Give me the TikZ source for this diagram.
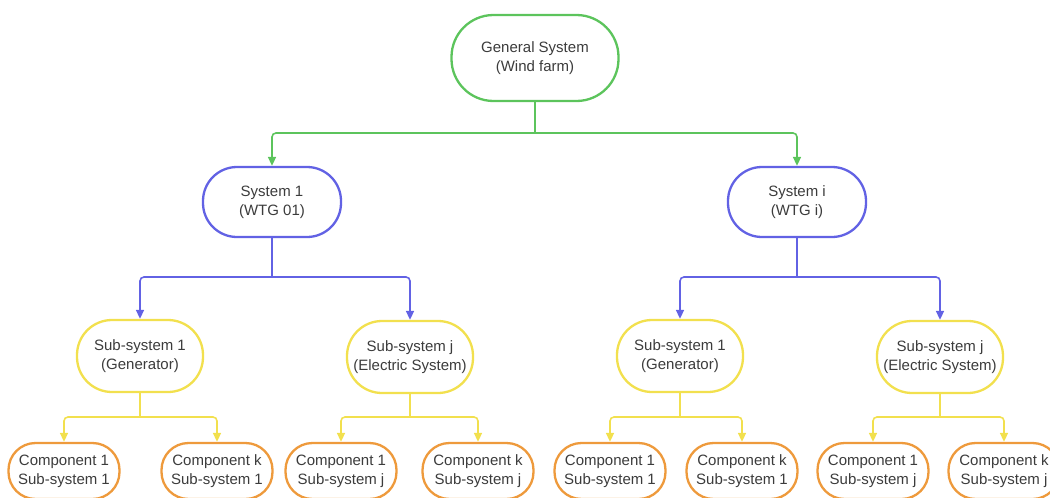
\documentclass[tikz,border=0pt]{standalone}
\usepackage{fontspec}
\setmainfont{Liberation Sans}
\usetikzlibrary{arrows.meta}
\definecolor{cgreen}{HTML}{5CC45C}
\definecolor{cblue}{HTML}{6262E4}
\definecolor{cyellow}{HTML}{F2E04E}
\definecolor{corange}{HTML}{EE9A3C}
\definecolor{ctext}{HTML}{3C3C3C}
\tikzset{
  box/.style={draw, line width=2.3pt, fill=white, align=center, text=ctext,
    font=\fontsize{15}{18.8}\selectfont, inner sep=0pt},
  gsbox/.style={box, draw=cgreen, minimum width=167pt, minimum height=86pt, rounded corners=42pt},
  sysbox/.style={box, draw=cblue, minimum width=138pt, minimum height=70pt, rounded corners=34pt},
  subbox/.style={box, draw=cyellow, minimum width=126pt, minimum height=72pt, rounded corners=35pt},
  compbox/.style={box, draw=corange, minimum width=111pt, minimum height=56pt, rounded corners=27pt},
  link/.style={line width=1.6pt, rounded corners=4pt},
  arr/.style={link, -{Triangle[length=9pt,width=8pt]}},
}
\begin{document}
\begin{tikzpicture}[x=1pt,y=-1pt]
\useasboundingbox (0,0) rectangle (1050,498);
\clip (0,0) rectangle (1050,498);
% nodes
\node[gsbox] (gs) at (535,58) {General System\\(Wind farm)};
\node[sysbox] (s1) at (272,202) {System 1\\(WTG 01)};
\node[sysbox] (si) at (797,202) {System i\\(WTG i)};
\node[subbox] (a1) at (140,356) {Sub-system 1\\(Generator)};
\node[subbox] (aj) at (410,357) {Sub-system j\\(Electric System)};
\node[subbox] (b1) at (680,356) {Sub-system 1\\(Generator)};
\node[subbox] (bj) at (940,357) {Sub-system j\\(Electric System)};
\node[compbox] (c1) at (64,471) {Component 1\\Sub-system 1};
\node[compbox] (c2) at (217,471) {Component k\\Sub-system 1};
\node[compbox] (c3) at (341,471) {Component 1\\Sub-system j};
\node[compbox] (c4) at (478,471) {Component k\\Sub-system j};
\node[compbox] (c5) at (610,471) {Component 1\\Sub-system 1};
\node[compbox] (c6) at (742,471) {Component k\\Sub-system 1};
\node[compbox] (c7) at (873,471) {Component 1\\Sub-system j};
\node[compbox] (c8) at (1004,471) {Component k\\Sub-system j};
% junctions
\coordinate (jg) at (535,133);
\coordinate (js1) at (272,277);
\coordinate (jsi) at (797,277);
\coordinate (ja1) at (140,417);
\coordinate (jaj) at (410,417);
\coordinate (jb1) at (680,417);
\coordinate (jbj) at (940,417);
% green
\draw[link, cgreen] (gs.south) -- (jg);
\draw[arr, cgreen] (jg) -| (s1.north);
\draw[arr, cgreen] (jg) -| (si.north);
% blue
\draw[link, cblue] (s1.south) -- (js1);
\draw[arr, cblue] (js1) -| (a1.north);
\draw[arr, cblue] (js1) -| (aj.north);
\draw[link, cblue] (si.south) -- (jsi);
\draw[arr, cblue] (jsi) -| (b1.north);
\draw[arr, cblue] (jsi) -| (bj.north);
% yellow
\draw[link, cyellow] (a1.south) -- (ja1);
\draw[arr, cyellow] (ja1) -| (c1.north);
\draw[arr, cyellow] (ja1) -| (c2.north);
\draw[link, cyellow] (aj.south) -- (jaj);
\draw[arr, cyellow] (jaj) -| (c3.north);
\draw[arr, cyellow] (jaj) -| (c4.north);
\draw[link, cyellow] (b1.south) -- (jb1);
\draw[arr, cyellow] (jb1) -| (c5.north);
\draw[arr, cyellow] (jb1) -| (c6.north);
\draw[link, cyellow] (bj.south) -- (jbj);
\draw[arr, cyellow] (jbj) -| (c7.north);
\draw[arr, cyellow] (jbj) -| (c8.north);
\end{tikzpicture}
\end{document}
